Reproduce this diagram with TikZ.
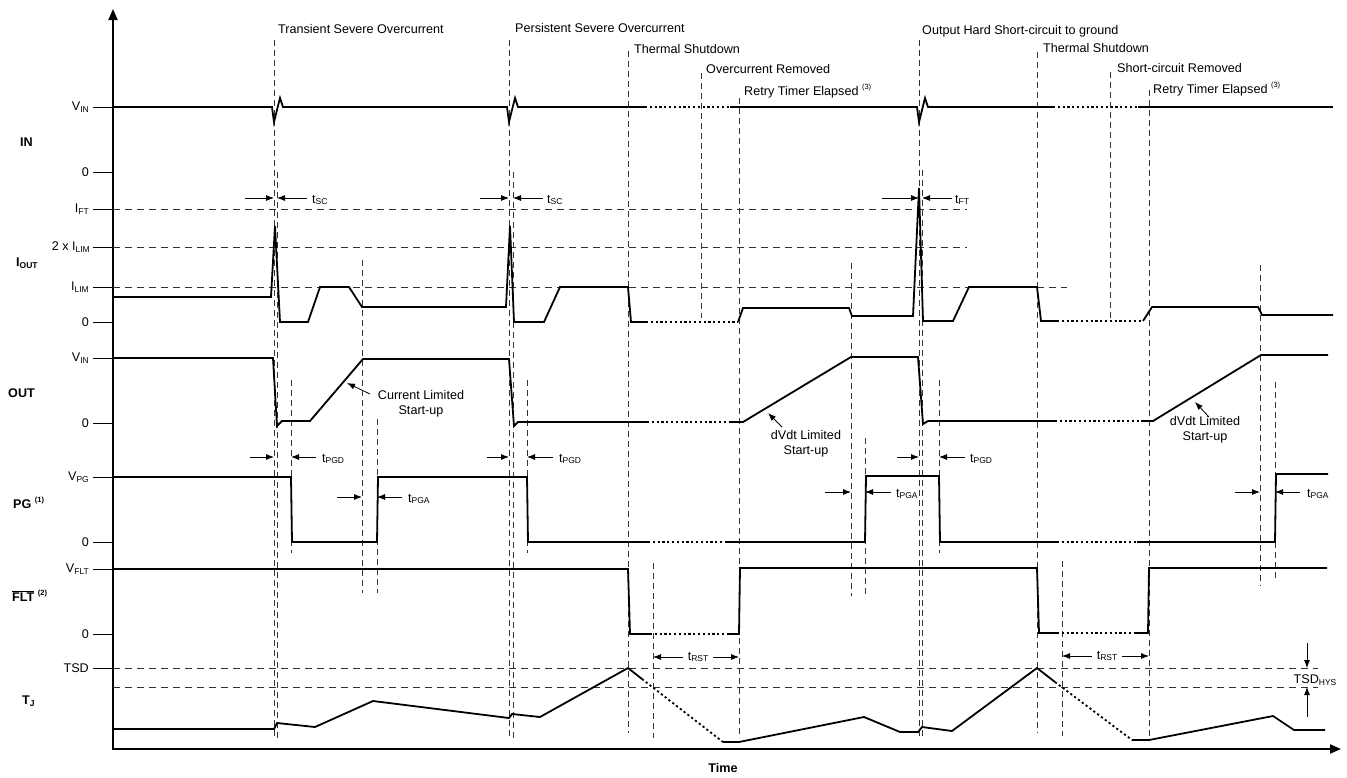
\documentclass[tikz,border=0pt]{standalone}
\usepackage{fontspec}
\setmainfont{Liberation Sans}
\usetikzlibrary{arrows.meta}
\newcommand{\ssub}[1]{\raisebox{-0.25ex}{\fontsize{8.5}{9}\selectfont #1}}
\newcommand{\ssup}[1]{\raisebox{0.9ex}{\fontsize{7.5}{8}\selectfont #1}}
\tikzset{
  sig/.style={line width=1.8pt, line join=miter},
  dotsig/.style={line width=1.8pt, dash pattern=on 2.2pt off 2.6pt},
  vdash/.style={line width=0.8pt, dash pattern=on 6pt off 4pt, black!80},
  hdash/.style={line width=0.8pt, dash pattern=on 7pt off 5pt, black!80},
  tk/.style={line width=0.8pt},
  dim/.style={line width=0.8pt, -{Latex[length=8pt,width=6pt]}},
  lbl/.style={font=\fontsize{12.6}{15}\selectfont, inner sep=0pt},
  nm/.style={font=\bfseries\fontsize{12.6}{14}\selectfont, inner sep=0pt},
  axis/.style={line width=2pt, -{Triangle[length=11pt,width=9pt]}},
}
\begin{document}
\begin{tikzpicture}[x=1pt,y=-1pt]
\useasboundingbox (0,0) rectangle (1347,777);

% axes
\draw[axis] (113,749) -- (113,9);
\draw[axis] (112,749) -- (1341,749);

% horizontal reference dashes
\draw[hdash] (113,209) -- (967,209);
\draw[hdash] (113,247) -- (967,247);
\draw[hdash] (113,287) -- (1067,287);
\draw[hdash] (113,668) -- (1318,668);
\draw[hdash] (113,687) -- (1318,687);

% ticks and level labels
\foreach \yy in {107,172,209,247,287,322,358,423,477,542,569,634,668}
  \draw[tk] (93,\yy) -- (113,\yy);
\node[lbl, anchor=east] (lvin1) at (89,107) {V\ssub{IN}};
\node[lbl, anchor=east] (lz1) at (89,172) {0};
\node[lbl, anchor=east] (lift) at (89,209) {I\ssub{FT}};
\node[lbl, anchor=east] (l2ilim) at (90,247) {2 x I\ssub{LIM}};
\node[lbl, anchor=east] (lilim) at (89,287) {I\ssub{LIM}};
\node[lbl, anchor=east] (lz2) at (89,322) {0};
\node[lbl, anchor=east] (lvin2) at (89,358) {V\ssub{IN}};
\node[lbl, anchor=east] (lz3) at (89,423) {0};
\node[lbl, anchor=east] (lvpg) at (89,477) {V\ssub{PG}};
\node[lbl, anchor=east] (lz4) at (89,542) {0};
\node[lbl, anchor=east] (lvflt) at (89,569) {V\ssub{FLT}};
\node[lbl, anchor=east] (lz5) at (89,634) {0};
\node[lbl, anchor=east] (ltsd) at (89,668) {TSD};

% signal names
\node[nm, anchor=west] (nIN) at (20,142) {IN};
\node[nm, anchor=west] (nIOUT) at (16,263) {I\ssub{OUT}};
\node[nm, anchor=west] (nOUT) at (8,393) {OUT};
\node[nm, anchor=west] (nPG) at (13,503) {PG \ssup{\bfseries(1)}};
\node[nm, anchor=west] (nFLT) at (12,596) {$\overline{\hbox{\bfseries\fontsize{12.6}{14}\selectfont FLT}}$ \ssup{\bfseries(2)}};
\node[nm, anchor=west] (nTJ) at (22,701) {T\ssub{J}};
\node[nm] (ntime) at (723,768) {Time};

% vertical dashed event lines
\draw[vdash] (274,40) -- (274,738);
\draw[vdash] (277,172) -- (277,738);
\draw[vdash] (291,380) -- (291,553);
\draw[vdash] (362,260) -- (362,593);
\draw[vdash] (377,419) -- (377,593);
\draw[vdash] (509,40) -- (509,738);
\draw[vdash] (513,172) -- (513,738);
\draw[vdash] (527,380) -- (527,553);
\draw[vdash] (628,51) -- (628,733);
\draw[vdash] (701,73) -- (701,318);
\draw[vdash] (739,98) -- (739,738);
\draw[vdash] (653,563) -- (653,738);
\draw[vdash] (851,263) -- (851,596);
\draw[vdash] (865,438) -- (865,596);
\draw[vdash] (919,40) -- (919,738);
\draw[vdash] (922,170) -- (922,738);
\draw[vdash] (939,380) -- (939,553);
\draw[vdash] (1037,52) -- (1037,733);
\draw[vdash] (1110,72) -- (1110,318);
\draw[vdash] (1149,90) -- (1149,738);
\draw[vdash] (1062,561) -- (1062,736);
\draw[vdash] (1260,265) -- (1260,586);
\draw[vdash] (1275,382) -- (1275,581);

% event labels
\node[lbl, anchor=base west] (ev1) at (278,33) {Transient Severe Overcurrent};
\node[lbl, anchor=base west] (ev2) at (515,32) {Persistent Severe Overcurrent};
\node[lbl, anchor=base west] (ev3) at (634,53) {Thermal Shutdown};
\node[lbl, anchor=base west] (ev4) at (706,73) {Overcurrent Removed};
\node[lbl, anchor=base west] (ev5) at (744,95) {Retry Timer Elapsed \ssup{(3)}};
\node[lbl, anchor=base west] (ev6) at (922,34) {Output Hard Short-circuit to ground};
\node[lbl, anchor=base west] (ev7) at (1043,52) {Thermal Shutdown};
\node[lbl, anchor=base west] (ev8) at (1117,72) {Short-circuit Removed};
\node[lbl, anchor=base west] (ev9) at (1153,93) {Retry Timer Elapsed \ssup{(3)}};

% IN
\draw[sig] (113,107) -- (272,107) -- (274,122) -- (280,98) -- (283,107) -- (507,107) -- (509,122) -- (515,98) -- (518,107) -- (645,107);
\draw[dotsig] (645,107) -- (730,107);
\draw[sig] (730,107) -- (917,107) -- (919,122) -- (925,98) -- (928,107) -- (1053,107);
\draw[dotsig] (1053,107) -- (1138,107);
\draw[sig] (1138,107) -- (1333,107);

% IOUT
\draw[sig] (113,297) -- (271,297) -- (275,226) -- (280,322) -- (308,322) -- (320,287) -- (349,287) -- (362,307) -- (506,307) -- (510,226) -- (514,322) -- (544,322) -- (560,287) -- (628,287) -- (631,322) -- (646,322);
\draw[dotsig] (646,322) -- (738,322);
\draw[sig] (738,322) -- (743,308) -- (849,308) -- (852,316) -- (913,316) -- (919,188) -- (923,321) -- (953,321) -- (969,287) -- (1037,287) -- (1041,321) -- (1057,321);
\draw[dotsig] (1057,321) -- (1143,321);
\draw[sig] (1143,321) -- (1152,307) -- (1258,307) -- (1262,315) -- (1333,315);

% OUT
\draw[sig] (113,358) -- (273,358) -- (277,426) -- (282,421) -- (310,421) -- (363,359) -- (509,359) -- (514,426) -- (518,422) -- (647,422);
\draw[dotsig] (647,422) -- (730,422);
\draw[sig] (730,422) -- (743,422) -- (851,357) -- (918,357) -- (923,424) -- (928,421) -- (1055,421);
\draw[dotsig] (1055,421) -- (1142,421);
\draw[sig] (1142,421) -- (1153,421) -- (1261,355) -- (1328,355);

% PG
\draw[sig] (113,477) -- (291,477) -- (292,542) -- (377,542) -- (378,477) -- (527,477) -- (528,542) -- (648,542);
\draw[dotsig] (648,542) -- (727,542);
\draw[sig] (727,542) -- (865,542) -- (866,476) -- (939,476) -- (940,542) -- (1057,542);
\draw[dotsig] (1057,542) -- (1137,542);
\draw[sig] (1137,542) -- (1275,542) -- (1276,474) -- (1328,474);

% FLT
\draw[sig] (113,569) -- (628,569) -- (630,634) -- (650,634);
\draw[dotsig] (650,634) -- (727,634);
\draw[sig] (727,634) -- (739,634) -- (740,568) -- (1037,568) -- (1039,633) -- (1057,633);
\draw[dotsig] (1057,633) -- (1135,633);
\draw[sig] (1135,633) -- (1148,633) -- (1149,568) -- (1327,568);

% TJ
\draw[sig] (113,729) -- (274,729) -- (277,723) -- (315,727) -- (373,701) -- (509,718) -- (512,714) -- (540,717) -- (628,668) -- (642,679);
\draw[dotsig] (642,679) -- (723,742);
\draw[sig] (723,742) -- (739,742) -- (864,717) -- (900,732) -- (918,732) -- (922,727) -- (952,731) -- (1037,668) -- (1055,682);
\draw[dotsig] (1055,682) -- (1132,740);
\draw[sig] (1132,740) -- (1149,740) -- (1273,716) -- (1294,730) -- (1325,730);

% timing dimensions
\draw[dim] (245,198) -- (274,198);
\draw[dim] (307,198) -- (277,198);
\node[lbl, anchor=west] (tsc1) at (312,200) {t\ssub{SC}};
\draw[dim] (480,198) -- (509,198);
\draw[dim] (543,198) -- (513,198);
\node[lbl, anchor=west] (tsc2) at (547,200) {t\ssub{SC}};
\draw[dim] (882,198) -- (919,198);
\draw[dim] (952,198) -- (922,198);
\node[lbl, anchor=west] (tft) at (955,200) {t\ssub{FT}};

\draw[dim] (250,457) -- (274,457);
\draw[dim] (316,457) -- (291,457);
\node[lbl, anchor=west] (tpgd1) at (322,459) {t\ssub{PGD}};
\draw[dim] (487,457) -- (509,457);
\draw[dim] (553,457) -- (527,457);
\node[lbl, anchor=west] (tpgd2) at (559,459) {t\ssub{PGD}};
\draw[dim] (897,457) -- (919,457);
\draw[dim] (965,457) -- (939,457);
\node[lbl, anchor=west] (tpgd3) at (970,459) {t\ssub{PGD}};

\draw[dim] (337,497) -- (362,497);
\draw[dim] (402,497) -- (377,497);
\node[lbl, anchor=west] (tpga1) at (408,499) {t\ssub{PGA}};
\draw[dim] (825,492) -- (851,492);
\draw[dim] (891,492) -- (865,492);
\node[lbl, anchor=west] (tpga2) at (896,494) {t\ssub{PGA}};
\draw[dim] (1235,492) -- (1260,492);
\draw[dim] (1300,492) -- (1275,492);
\node[lbl, anchor=west] (tpga3) at (1307,494) {t\ssub{PGA}};

\node[lbl] (trst1) at (698,657) {t\ssub{RST}};
\draw[dim] (trst1.west) ++(-5,0) -- (653,657);
\draw[dim] (trst1.east) ++(5,0) -- (739,657);
\node[lbl] (trst2) at (1107,656) {t\ssub{RST}};
\draw[dim] (trst2.west) ++(-5,0) -- (1062,656);
\draw[dim] (trst2.east) ++(5,0) -- (1149,656);

% TSD hysteresis
\node[lbl] (tsdhys) at (1315,680) {TSD\ssub{HYS}};
\draw[dim] (1307,643) -- (1307,668);
\draw[dim] (1307,717) -- (1307,687);

% annotations
\node[lbl, align=center] (cls) at (421,404) {Current Limited\\Start-up};
\coordinate (clsTip) at (347,383);
\draw[dim] (370,394) -- (clsTip);
\node[lbl, align=center] (dv1) at (806,444) {dVdt Limited\\Start-up};
\coordinate (dv1Tip) at (768,413);
\draw[dim] (782,427) -- (dv1Tip);
\node[lbl, align=center] (dv2) at (1205,430) {dVdt Limited\\Start-up};
\coordinate (dv2Tip) at (1195,402);
\draw[dim] (1209,417) -- (dv2Tip);
\end{tikzpicture}
\end{document}
